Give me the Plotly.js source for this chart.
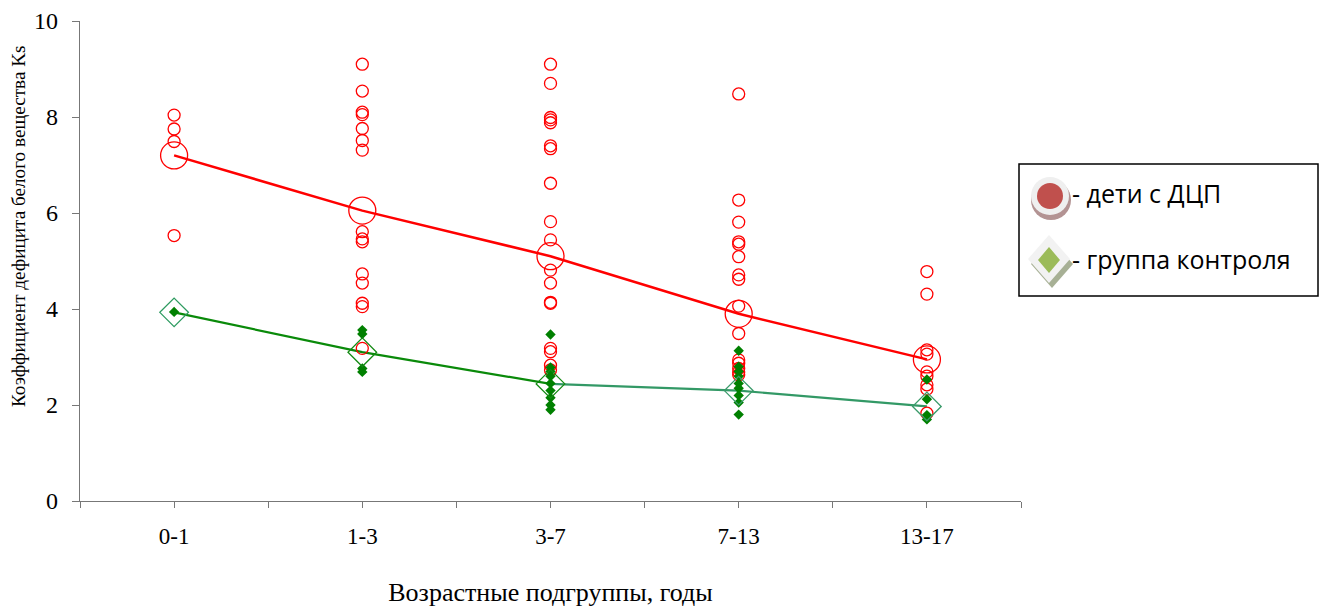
<!DOCTYPE html>
<html>
<head>
<meta charset="utf-8">
<script src="https://cdn.plot.ly/plotly-3.0.1.min.js"></script>
<style>html,body{margin:0;padding:0;background:#fff;}#chart{width:1320px;height:608px;}</style>
</head>
<body>
<div id="chart"></div>
<script>
// ---- data ----
const categories = ["0-1", "1-3", "3-7", "7-13", "13-17"];

// individual values, children with cerebral palsy (red open circles)
const cpValues_0_1 = [8.04, 7.75, 7.49, 5.53];
const cpValues_1_3 = [9.10, 8.54, 8.10, 8.05, 7.76, 7.51, 7.31, 5.61, 5.46, 5.40, 4.73, 4.54, 4.12, 4.05, 3.18];
const cpValues_3_7 = [9.10, 8.70, 7.99, 7.94, 7.88, 7.40, 7.34, 6.62, 5.82, 5.44, 4.81, 4.54, 4.14, 4.12, 3.18, 3.11, 2.83, 2.73];
const cpValues_7_13 = [8.48, 6.27, 5.81, 5.40, 5.35, 5.09, 4.71, 4.62, 4.06, 3.49, 2.94, 2.87, 2.76, 2.69, 2.63];
const cpValues_13_17 = [4.78, 4.31, 3.15, 3.06, 2.69, 2.60, 2.42, 2.33, 1.83];

// individual values, control group (green filled diamonds)
const ctrlValues_0_1 = [3.94];
const ctrlValues_1_3 = [3.56, 3.48, 2.76, 2.69];
const ctrlValues_3_7 = [3.47, 2.78, 2.70, 2.60, 2.45, 2.30, 2.15, 2.00, 1.90];
const ctrlValues_7_13 = [3.13, 2.80, 2.70, 2.60, 2.45, 2.35, 2.20, 2.05, 1.80];
const ctrlValues_13_17 = [2.53, 2.12, 1.79, 1.70];

// group means
const cpMeans = [7.20, 6.05, 5.10, 3.90, 2.95];
const ctrlMeans = [3.93, 3.10, 2.44, 2.30, 1.97];

const yTickVals = [0, 2, 4, 6, 8, 10];
const legendLabels = ["- дети с ДЦП", "- группа контроля"];
const xTitle = "Возрастные подгруппы, годы";
const yTitle = "Коэффициент дефицита белого вещества Ks";

// ---- build ----
const cpGroups = [cpValues_0_1, cpValues_1_3, cpValues_3_7, cpValues_7_13, cpValues_13_17];
const ctrlGroups = [ctrlValues_0_1, ctrlValues_1_3, ctrlValues_3_7, ctrlValues_7_13, ctrlValues_13_17];
function flatten(groups) {
  const xs = [], ys = [];
  groups.forEach((g, i) => g.forEach(v => { xs.push(i); ys.push(v); }));
  return {x: xs, y: ys};
}
const cpPts = flatten(cpGroups);
const ctrlPts = flatten(ctrlGroups);
const idx = categories.map((c, i) => i);

const traces = [
  {x: idx, y: cpMeans, mode: 'lines', line: {color: '#FF0000', width: 2.5}, hoverinfo: 'skip'},
  {x: idx.slice(0, 3), y: ctrlMeans.slice(0, 3), mode: 'lines', line: {color: '#0A8A0A', width: 2.2}, hoverinfo: 'skip'},
  {x: idx.slice(2), y: ctrlMeans.slice(2), mode: 'lines', line: {color: '#339966', width: 2.2}, hoverinfo: 'skip'},
  {x: cpPts.x, y: cpPts.y, mode: 'markers', marker: {symbol: 'circle-open', size: 12, color: '#FF0000', line: {width: 1.3}}},
  {x: ctrlPts.x, y: ctrlPts.y, mode: 'markers', marker: {symbol: 'diamond', size: 8, color: '#008000', line: {width: 0}}},
  {x: idx, y: cpMeans, mode: 'markers', marker: {symbol: 'circle-open', size: 27, color: '#FF0000', line: {width: 1.3}}},
  {x: idx, y: ctrlMeans, mode: 'markers', marker: {symbol: 'diamond-open', size: 22,
     color: ['#2E9B60', '#138A13', '#138A13', '#3A9A6A', '#3A9A6A'], line: {width: 1.3}}}
];

// pixel -> paper helpers for the drawn legend
const L = 80, R = 1021, T = 21, B = 501;
const px = v => (v - L) / (R - L);
const py = v => (B - v) / (B - T);

function circ(cx, cy, r, fill) {
  return {type: 'circle', xref: 'paper', yref: 'paper', x0: px(cx - r), x1: px(cx + r), y0: py(cy + r), y1: py(cy - r),
          fillcolor: fill, line: {width: 0}, layer: 'above'};
}
function diam(cx, cy, hw, hh, fill) {
  return {type: 'path', xref: 'paper', yref: 'paper', layer: 'above',
          path: `M ${px(cx)},${py(cy - hh)} L ${px(cx + hw)},${py(cy)} L ${px(cx)},${py(cy + hh)} L ${px(cx - hw)},${py(cy)} Z`,
          fillcolor: fill, line: {width: 0}};
}

const shapes = [
  {type: 'rect', xref: 'paper', yref: 'paper', x0: px(1019), x1: px(1318), y0: py(296), y1: py(164),
   line: {color: '#000', width: 1.5}, fillcolor: 'rgba(0,0,0,0)', layer: 'above'},
  circ(1051, 200, 20, '#B39393'),
  circ(1050, 196, 19, '#EFEFEF'),
  circ(1050, 196, 13, '#C0504D'),
  diam(1052, 264, 21, 24, '#A7B095'),
  diam(1049, 259, 21, 24, '#F2F2F2'),
  diam(1049, 260, 11, 13, '#9BBB59')
];

const annotations = [
  {xref: 'paper', yref: 'paper', x: px(1070), y: py(193), xanchor: 'left', yanchor: 'middle', showarrow: false,
   text: legendLabels[0], font: {family: 'Open Sans, sans-serif', size: 25, color: '#000'}},
  {xref: 'paper', yref: 'paper', x: px(1070), y: py(259), xanchor: 'left', yanchor: 'middle', showarrow: false,
   text: legendLabels[1], font: {family: 'Open Sans, sans-serif', size: 25, color: '#000'}},
  {xref: 'paper', yref: 'paper', x: px(18), y: py(226), xanchor: 'center', yanchor: 'middle', showarrow: false,
   textangle: -90, text: yTitle, font: {family: 'Liberation Serif, serif', size: 19.2, color: '#000'}}
];

const xTickVals = [], xTickText = [];
for (let i = 0; i <= 10; i++) {
  const v = -0.5 + i * 0.5;
  xTickVals.push(v);
  xTickText.push(Number.isInteger(v) ? categories[v] : '');
}

const layout = {
  width: 1320, height: 608,
  margin: {l: 80, r: 299, t: 21, b: 107},
  paper_bgcolor: '#fff', plot_bgcolor: '#fff',
  showlegend: false,
  font: {family: 'Liberation Serif, Times New Roman, serif', color: '#000'},
  xaxis: {
    range: [-0.5, 4.5], tickmode: 'array', tickvals: xTickVals, ticktext: xTickText,
    ticks: 'outside', ticklen: 6, tickcolor: '#777', tickwidth: 1,
    showline: true, linecolor: '#777', linewidth: 1.3, showgrid: false, zeroline: false,
    tickfont: {family: 'Liberation Serif, serif', size: 23},
    ticklabelstandoff: 8,
    title: {text: xTitle, font: {family: 'Liberation Serif, serif', size: 26}, standoff: 35}
  },
  yaxis: {
    range: [0, 10], tickmode: 'array', tickvals: yTickVals,
    ticks: 'outside', ticklen: 7, tickcolor: '#777', tickwidth: 1,
    showline: true, linecolor: '#777', linewidth: 1.3, showgrid: false, zeroline: false,
    tickfont: {family: 'Liberation Serif, serif', size: 24},
    ticklabelstandoff: 9
  },
  shapes: shapes,
  annotations: annotations
};

Plotly.newPlot('chart', traces, layout, {displayModeBar: false, staticPlot: true});
</script>
</body>
</html>
